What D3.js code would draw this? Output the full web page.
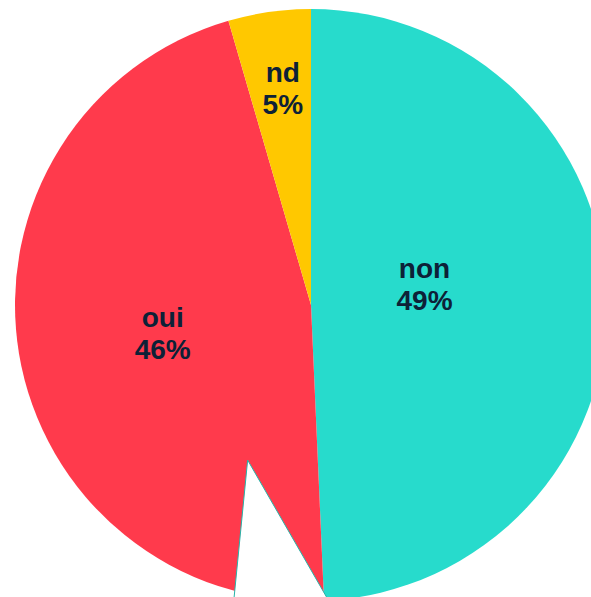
<!DOCTYPE html>
<html>
<head>
<meta charset="utf-8">
<script src="https://cdn.jsdelivr.net/npm/d3@7"></script>
<style>
  body { margin: 0; background: #fff; }
  svg { display: block; }
</style>
</head>
<body>
<div id="pie"></div>
<script>
// DATA
const categories = ["non", "oui", "nd"];
const values = [49.3, 46.2, 4.5];
const colors = ["#27dbcc", "#ff3a4c", "#ffc800"];

// LAYOUT
const outerWidth = 591;
const outerHeight = 597;
const cx = 311, cy = 305, radius = 296;
// label polar position: angle in degrees (clockwise from top), radius fraction
const labelAt = { non: [79.5, 0.39], oui: [259.2, 0.51], nd: [-7.4, 0.74] };

const svg = d3.select("#pie").append("svg")
	.attr("width", outerWidth)
	.attr("height", outerHeight);

const g = svg.append("g")
	.attr("transform", `translate(${cx}, ${cy})`);

const slices = categories.map((c, i) => ({ name: c, value: values[i], color: colors[i] }));

const pie = d3.pie()
	.value(d => d.value)
	.sort(null);

const arc = d3.arc()
	.innerRadius(0)
	.outerRadius(radius);

const arcs = pie(slices);

g.selectAll("path.slice")
	.data(arcs)
	.enter()
	.append("path")
	.attr("class", "slice")
	.attr("d", arc)
	.style("fill", d => d.data.color);

// white notch cut into the bottom of the pie
const notch = [
	[-0.214 * radius, 0.524 * radius],
	[-0.262 * radius, 1.01 * radius],
	[0.066 * radius, 1.01 * radius]
];
g.append("path")
	.attr("d", d3.line()(notch) + "Z")
	.style("fill", "#fff")
	.style("stroke", "#27b3a8")
	.style("stroke-width", 1);

const total = d3.sum(values);
const labels = g.selectAll("text.label")
	.data(arcs)
	.enter()
	.append("text")
	.attr("class", "label")
	.attr("transform", d => {
		const [deg, f] = labelAt[d.data.name];
		const a = deg * Math.PI / 180;
		return `translate(${f * radius * Math.sin(a)}, ${-f * radius * Math.cos(a)})`;
	})
	.attr("text-anchor", "middle")
	.style("font-family", "'Liberation Sans', Arial, sans-serif")
	.style("font-weight", "bold")
	.style("font-size", "28px")
	.style("fill", "#0d2137");

labels.append("tspan")
	.attr("x", 0)
	.attr("y", -6)
	.text(d => d.data.name);

labels.append("tspan")
	.attr("x", 0)
	.attr("y", 26)
	.text(d => Math.round(d.value / total * 100) + "%");
</script>
</body>
</html>
